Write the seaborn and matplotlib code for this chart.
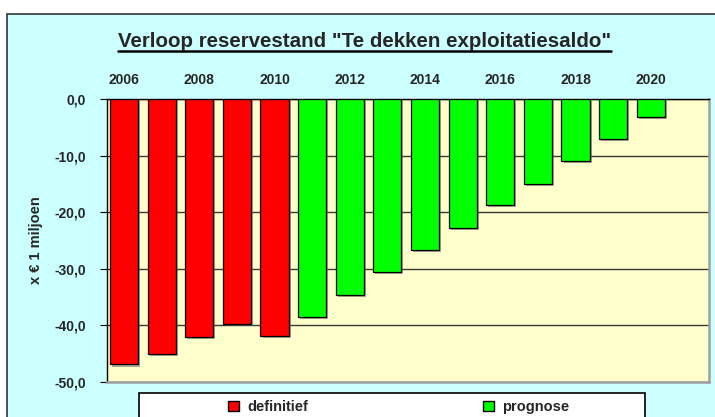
import matplotlib
matplotlib.use("Agg")
import matplotlib.pyplot as plt
import matplotlib.patheffects as pe
import seaborn as sns
import pandas as pd
from matplotlib.patches import Rectangle, Patch
from matplotlib.lines import Line2D

# Gegevens (x € 1 miljoen)
jaren = list(range(2006, 2021))
saldo = [-46.9, -45.0, -42.1, -39.8, -41.9, -38.5, -34.6, -30.6,
         -26.7, -22.8, -18.8, -15.0, -10.9, -7.1, -3.2]
status = ["definitief"] * 5 + ["prognose"] * 10
kleuren = {"definitief": "#ff0000", "prognose": "#00ff00"}
yticks = [0, -10, -20, -30, -40, -50]
titel = 'Verloop reservestand "Te dekken exploitatiesaldo"'

df = pd.DataFrame({"jaar": [str(j) for j in jaren], "saldo": saldo, "status": status})

sns.set_style("ticks")
plt.rcParams["font.family"] = ["Liberation Sans", "DejaVu Sans"]
plt.rcParams["font.weight"] = "bold"

W, H = 715, 417
fig = plt.figure(figsize=(W / 100, H / 100), dpi=100, facecolor="white")

# Achtergrond kader
fig.add_artist(Rectangle((7 / W, -0.1), 1.0, (H - 14) / H + 0.1, transform=fig.transFigure,
                         facecolor="#ccffff", edgecolor="#333333", lw=1.2, zorder=-2))
# Legenda kader
fig.add_artist(Rectangle((139 / W, -0.1), (645 - 139) / W, (H - 393) / H + 0.1,
                         transform=fig.transFigure, facecolor="white", edgecolor="black",
                         lw=1.2, zorder=-1))

ax = fig.add_axes([107 / W, (H - 382) / H, (709 - 107) / W, (382 - 99) / H])
ax.set_facecolor("#ffffcc")

sns.barplot(data=df, x="jaar", y="saldo", hue="status", palette=kleuren, dodge=False,
            saturation=1, width=0.745, edgecolor="black", linewidth=0.9, legend=False,
            ax=ax, zorder=3)
for p in ax.patches:
    p.set_path_effects([pe.SimplePatchShadow(offset=(1.5, -1.5), shadow_rgbFace="#555555", alpha=0.5),
                        pe.Normal()])

ax.set_xlim(-0.452, 15.548)
ax.set_ylim(-50, 0)
ax.set_axisbelow(True)
ax.yaxis.grid(True, color="#3a3a3a", lw=1.0)

ax.xaxis.tick_top()
ax.set_xticks(range(0, len(jaren), 2))
ax.set_xticklabels([str(j) for j in jaren[::2]], fontsize=10, fontweight="bold")
ax.tick_params(axis="x", length=0, pad=8.5)
ax.set_yticks(yticks)
ax.set_yticklabels([f"{v:.1f}".replace(".", ",") for v in yticks], fontsize=10, fontweight="bold")
ax.tick_params(axis="y", length=5, width=0.8, pad=10, color="black")
ax.set_xlabel("")
ax.set_ylabel("x € 1 miljoen", fontsize=10.5, fontweight="bold")
ax.yaxis.set_label_coords(-0.106, 0.5)

for s in ["top", "left"]:
    ax.spines[s].set_color("black")
    ax.spines[s].set_linewidth(1.0)
for s in ["right", "bottom"]:
    ax.spines[s].set_color("#a0a0a0")
    ax.spines[s].set_linewidth(1.8)

handles = [Patch(facecolor=kleuren[k], edgecolor="black", lw=1.0) for k in kleuren]
fig.legend(handles, list(kleuren), loc="center left", bbox_to_anchor=(228 / W, (H - 407) / H),
           ncol=2, frameon=False, prop={"size": 10.5, "weight": "bold"},
           handlelength=0.75, handleheight=0.75, handletextpad=0.55, columnspacing=12.0,
           borderpad=0, borderaxespad=0)

t = fig.text(364.5 / W, (H - 47) / H, titel, ha="center", va="baseline",
             fontsize=14.8, fontweight="bold")
fig.canvas.draw()
bb = t.get_window_extent()
yl = (H - 51) / H
fig.add_artist(Line2D([bb.x0 / W, bb.x1 / W], [yl, yl], transform=fig.transFigure,
                      color="black", lw=1.8))

fig.savefig("out.png", dpi=100, facecolor="white")
